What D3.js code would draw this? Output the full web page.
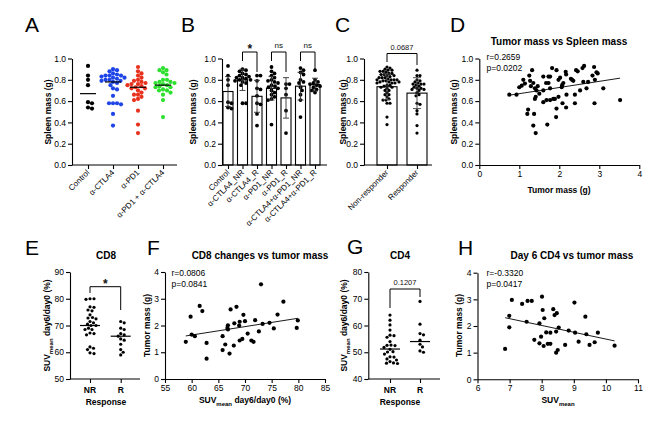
<!DOCTYPE html>
<html><head><meta charset="utf-8">
<script src="https://cdn.jsdelivr.net/npm/d3@7"></script>
<style>body{margin:0;background:#fff}</style>
</head><body>
<svg id="fig" width="669" height="428"></svg>
<script>
// ---------------- DATA ----------------
const spleenTicks = [0, 0.2, 0.4, 0.6, 0.8, 1.0];
// Panel B groups (spleen mass, g)
const groupsB = ["Control","α-CTLA4_NR","α-CTLA4_R","α-PD1_NR","α-PD1_R","α-CTLA4+α-PD1_NR","α-CTLA4+α-PD1_R"];
const spleenControl = [0.93,0.84,0.80,0.75,0.58,0.53,0.59,0.54];
const spleenCTLA4_NR = [0.90,0.89,0.88,0.86,0.85,0.84,0.83,0.82,0.82,0.81,0.80,0.80,0.79,0.78,0.77,0.75,0.58,0.58];
const spleenCTLA4_R = [0.84,0.84,0.79,0.72,0.71,0.65,0.58,0.57,0.48,0.37];
const spleenPD1_NR = [0.92,0.88,0.86,0.84,0.82,0.80,0.79,0.78,0.77,0.75,0.74,0.73,0.72,0.70,0.68,0.66,0.64,0.62,0.61,0.38];
const spleenPD1_R = [0.76,0.76,0.72,0.66,0.51,0.30];
const spleenCombo_NR = [0.91,0.89,0.87,0.85,0.80,0.78,0.77,0.73,0.70,0.66,0.61,0.45];
const spleenCombo_R = [0.89,0.80,0.78,0.77,0.76,0.75,0.74,0.73,0.71,0.70,0.68];
const barMeansB = [0.69,0.80,0.645,0.72,0.63,0.74,0.755];
const barSdB = [0.14,0.10,0.15,0.11,0.19,0.13,0.06];
const sigB = ["*","ns","ns"];
// Panel A groups
const groupsA = ["Control","α-CTLA4","α-PD1","α-PD1 + α-CTLA4"];
const colorsA = ["#000000","#1f45e6","#e8321e","#2ee02e"];
const meansA = [0.67,0.78,0.73,0.75];
// Panel C
const groupsC = ["Non-responder","Responder"];
const barMeansC = [0.735,0.675];
const barSdC = [0.12,0.145];
const pC = "0.0687";
// Panel D
const tumorD = [0.75,0.93,1.0,1.06,1.1,1.14,1.25,1.32,1.27,1.29,1.22,1.2,1.37,1.35,1.41,1.35,1.39,1.43,1.41,1.46,1.5,1.39,1.6,1.67,1.6,1.6,1.68,1.73,1.77,1.73,1.77,1.82,1.93,1.77,1.85,1.89,1.7,1.92,1.93,1.98,1.98,2.02,2.06,2.07,2.1,2.08,2.16,2.17,2.17,2.18,2.29,2.32,2.35,2.39,2.39,2.42,2.46,2.52,2.58,2.62,2.6,2.68,2.72,2.83,2.87,2.88,2.89,2.93,2.96,3.1,3.52];
const spleenD = [0.66,0.66,0.73,0.745,0.80,0.765,0.84,0.89,0.79,0.74,0.52,0.48,0.48,0.37,0.30,0.77,0.72,0.70,0.64,0.74,0.67,0.62,0.83,0.77,0.70,0.59,0.61,0.83,0.83,0.77,0.72,0.91,0.89,0.61,0.62,0.62,0.38,0.45,0.53,0.64,0.80,0.82,0.73,0.75,0.77,0.58,0.875,0.85,0.54,0.66,0.81,0.80,0.79,0.66,0.58,0.89,0.88,0.70,0.91,0.93,0.78,0.72,0.78,0.84,0.92,0.58,0.80,0.87,0.86,0.72,0.61];
const fitD = [0.612, 0.0578]; // intercept, slope
const statsD = ["r=0.2659","p=0.0202"];
// Panel E (CD8 SUVmean day6/day0 %)
const cd8NR = [80,80,79.8,77,76.8,75.8,75.5,74,73,72.8,72.5,71.5,71,70.5,70,70,69,68.5,68.5,67.2,67,66.5,62,61.5,61,59.8,59.5];
const cd8R = [71.5,71,69,68.5,67,66.5,66,65,64.5,63,61,60,59];
const linesE = [70,66];
// Panel F
const suvF = [58.9,59.8,60,60.6,61.5,62,62.8,62.8,65.8,65.8,66.3,66.7,66.8,66.8,67.1,67.3,67.9,68,68.4,68.9,69,69,69.5,69.7,70,70.5,71.2,71.6,71.9,72.6,73,73.3,74.6,75.4,76.1,77.2,79.7,79.9];
const tumorF = [1.39,2.33,1.66,1.6,2.73,2.54,1.35,0.76,1.6,1.08,1.29,1.91,2.01,1.85,0.95,2.6,1.25,2.08,2.7,2.0,2.14,1.44,1.5,2.4,2.16,1.7,1.44,1.39,2.2,1.78,3.54,2.06,2.1,1.89,2.41,2.89,1.91,2.19];
const fitF = [-0.24, 0.0314];
const statsF = ["r=0.0806","p=0.0841"];
// Panel G (CD4)
const cd4NR = [63.9,62,60.2,58.3,56.4,56.2,55.6,54,52.7,52.6,52.5,51.8,51.1,50.2,50.1,49.3,48.3,48.2,47.1,46.5,46,45.9,45.8,47.5];
const cd4R = [69,60.5,57,56.5,54.5,53,52,50.5,50];
const linesG = [51.2,54];
const pG = "0.1207";
// Panel H
const suvH = [6.86,6.99,6.99,7.07,7.39,7.56,7.69,7.53,7.77,7.93,7.93,7.98,8.01,8.03,8.06,8.08,8.14,8.19,8.27,8.27,8.36,8.4,8.45,8.45,8.47,8.5,8.53,8.73,8.84,9.02,9.04,9.15,9.36,9.39,9.49,9.65,9.75,10.27];
const tumorH = [1.14,2.38,1.95,2.98,2.83,2.94,2.94,2.16,1.48,2.1,1.35,1.6,3.1,2.6,1.25,2.29,1.76,1.33,1.33,1.75,2.63,2.41,1.79,1.0,2.48,1.1,1.94,1.29,1.83,2.88,1.75,1.41,2.35,1.69,1.29,1.39,1.75,1.26];
const fitH = [4.06, -0.255];
const statsH = ["r=-0.3320","p=0.0417"];

// ---------------- HELPERS ----------------
const FONT = "'Liberation Sans', Arial, Helvetica, sans-serif";
const svg = d3.select("#fig").attr("font-family", FONT);
svg.append("rect").attr("width",669).attr("height",428).attr("fill","#fff");

function styleAxis(a){
  a.attr("font-family", FONT).attr("font-size", 8.5);
  a.selectAll("path,line").attr("stroke","#000").attr("stroke-width",1.1);
  a.selectAll("text").attr("fill","#000");
}
function leftAxis(y, x, ticks, fmt){
  const a = svg.append("g").attr("transform",`translate(${x},0)`)
    .call(d3.axisLeft(y).tickValues(ticks).tickFormat(fmt).tickSize(4).tickSizeOuter(0).tickPadding(2));
  styleAxis(a); return a;
}
function bottomLinear(x, yPos, ticks, fmt){
  const a = svg.append("g").attr("transform",`translate(0,${yPos})`)
    .call(d3.axisBottom(x).tickValues(ticks).tickFormat(fmt).tickSize(4).tickSizeOuter(0).tickPadding(2));
  styleAxis(a); return a;
}
function bottomCat(xs, yPos, x0, x1){
  svg.append("line").attr("x1",x0).attr("x2",x1).attr("y1",yPos).attr("y2",yPos)
    .attr("stroke","#000").attr("stroke-width",1.1);
  const a = svg.append("g").attr("transform",`translate(0,${yPos})`)
    .call(d3.axisBottom(xs).tickSize(4).tickFormat(""));
  a.select(".domain").remove();
  styleAxis(a); return a;
}
function rotLabels(xs, yPos, size){
  svg.append("g").selectAll("text").data(xs.domain()).join("text")
    .attr("transform", d => `translate(${xs(d)+2},${yPos+8}) rotate(-45)`)
    .attr("text-anchor","end").attr("font-size", size || 8).attr("fill","#000").text(d => d);
}
function letter(t, x, y){
  svg.append("text").attr("x",x).attr("y",y).attr("font-size",21).attr("fill","#000").text(t);
}
function yTitle(t, x, y){
  svg.append("text").attr("transform",`translate(${x},${y}) rotate(-90)`).attr("text-anchor","middle")
    .attr("font-size",8.5).attr("font-weight","bold").attr("fill","#000").text(t);
}
function suvTitle(g, rest){
  g.attr("font-size",8.5).attr("font-weight","bold").attr("fill","#000").attr("text-anchor","middle");
  g.append("tspan").text("SUV");
  g.append("tspan").attr("font-size",6).attr("dy",2.5).text("mean");
  if (rest) g.append("tspan").attr("dy",-2.5).text(rest);
}
function title(t, x, y){
  svg.append("text").attr("x",x).attr("y",y).attr("text-anchor","middle").attr("font-size",10)
    .attr("font-weight","bold").attr("fill","#000").text(t);
}
function swarm(vals, y, cx, r, gap){
  const pts = [];
  const sorted = vals.map(v => ({v, y:y(v)})).sort((a,b) => a.y - b.y);
  for (const p of sorted){
    let best = cx;
    for (let k = 0; k < 80; k++){
      const off = (k % 2 === 1 ? 1 : -1) * Math.ceil(k/2) * 0.5;
      const x = cx + off;
      if (pts.every(q => (q.x-x)**2 + (q.y-p.y)**2 >= (2*r+gap)**2)){ best = x; break; }
    }
    pts.push({v:p.v, x:best, y:p.y});
  }
  return pts;
}
function dots(pts, r, color){
  svg.append("g").selectAll("circle").data(pts).join("circle")
    .attr("cx", d => d.x).attr("cy", d => d.y).attr("r", r).attr("fill", color);
}
function bracket(x1, x2, yTop, yL, yR, label, size, bold, dyText){
  const p = d3.path();
  p.moveTo(x1, yL); p.lineTo(x1, yTop); p.lineTo(x2, yTop); p.lineTo(x2, yR);
  svg.append("path").attr("d", p.toString()).attr("fill","none").attr("stroke","#000").attr("stroke-width",1);
  svg.append("text").attr("x",(x1+x2)/2).attr("y",yTop - dyText).attr("text-anchor","middle")
    .attr("font-size",size).attr("font-weight", bold ? "bold" : "normal").attr("fill","#111").text(label);
}
function meanLine(cx, v, y, hw){
  svg.append("line").attr("x1",cx-hw).attr("x2",cx+hw).attr("y1",y(v)).attr("y2",y(v))
    .attr("stroke","#000").attr("stroke-width",1.2);
}
function fitLine(x, y, xs, fit){
  const [lo, hi] = d3.extent(xs);
  svg.append("line").attr("x1",x(lo)).attr("x2",x(hi))
    .attr("y1",y(fit[0]+fit[1]*lo)).attr("y2",y(fit[0]+fit[1]*hi))
    .attr("stroke","#000").attr("stroke-width",0.9);
}
function stats(lines, x, y){
  lines.forEach((t,i) => svg.append("text").attr("x",x).attr("y",y+i*11).attr("font-size",8.5)
    .attr("fill","#000").text(t));
}
const f1 = d3.format(".1f");
const fd = d3.format("d");

// ---------------- PANEL A ----------------
{
  const dataA = [spleenControl, spleenCTLA4_NR.concat(spleenCTLA4_R), spleenPD1_NR.concat(spleenPD1_R), spleenCombo_NR.concat(spleenCombo_R)];
  const y = d3.scaleLinear().domain([0,1]).range([165,58.5]);
  const x = d3.scalePoint().domain(groupsA).range([88,163]);
  letter("A", 25, 32);
  leftAxis(y, 72, spleenTicks, f1);
  bottomCat(x, 165, 72, 177);
  rotLabels(x, 165);
  yTitle("Spleen mass (g)", 51, 112);
  groupsA.forEach((g,i) => {
    dots(swarm(dataA[i], y, x(g), 2.1, -0.2), 2.1, colorsA[i]);
    meanLine(x(g), meansA[i], y, 8);
  });
}
// ---------------- PANEL B ----------------
{
  const dataB = [spleenControl, spleenCTLA4_NR, spleenCTLA4_R, spleenPD1_NR, spleenPD1_R, spleenCombo_NR, spleenCombo_R];
  const y = d3.scaleLinear().domain([0,1]).range([165,58.5]);
  const x = d3.scalePoint().domain(groupsB).range([228,315]);
  const bw = 10;
  letter("B", 181, 32);
  svg.append("g").selectAll("rect").data(groupsB).join("rect")
    .attr("x", d => x(d)-bw/2).attr("width", bw)
    .attr("y", (d,i) => y(barMeansB[i])).attr("height", (d,i) => y(0)-y(barMeansB[i]))
    .attr("fill","#fff").attr("stroke","#000").attr("stroke-width",1.1);
  groupsB.forEach((g,i) => dots(swarm(dataB[i], y, x(g), 1.9, -0.3), 1.9, "#000"));
  groupsB.forEach((g,i) => {
    const cx = x(g), m = barMeansB[i], s = barSdB[i];
    const e = svg.append("g").attr("stroke","#333").attr("stroke-width",0.9);
    e.append("line").attr("x1",cx).attr("x2",cx).attr("y1",y(m-s)).attr("y2",y(m+s));
    e.append("line").attr("x1",cx-3).attr("x2",cx+3).attr("y1",y(m-s)).attr("y2",y(m-s));
    e.append("line").attr("x1",cx-3).attr("x2",cx+3).attr("y1",y(m+s)).attr("y2",y(m+s));
  });
  leftAxis(y, 222, spleenTicks, f1);
  bottomCat(x, 165, 222, 327);
  rotLabels(x, 165);
  yTitle("Spleen mass (g)", 195.5, 112);
  [[1,2],[3,4],[5,6]].forEach((pr,k) => {
    const star = sigB[k] === "*";
    bracket(x(groupsB[pr[0]]), x(groupsB[pr[1]]), 52, 61, 72, sigB[k], star ? 12 : 8, star, star ? -1 : 4);
  });
}
// ---------------- PANEL C ----------------
{
  const dataC = [spleenCTLA4_NR.concat(spleenPD1_NR, spleenCombo_NR), spleenCTLA4_R.concat(spleenPD1_R, spleenCombo_R)];
  const y = d3.scaleLinear().domain([0,1]).range([165,58.5]);
  const x = d3.scalePoint().domain(groupsC).range([387,417]);
  const bw = 20;
  letter("C", 335, 32);
  svg.append("g").selectAll("rect").data(groupsC).join("rect")
    .attr("x", d => x(d)-bw/2).attr("width", bw)
    .attr("y", (d,i) => y(barMeansC[i])).attr("height", (d,i) => y(0)-y(barMeansC[i]))
    .attr("fill","#fff").attr("stroke","#000").attr("stroke-width",1.1);
  groupsC.forEach((g,i) => dots(swarm(dataC[i], y, x(g), 1.6, -0.4), 1.6, "#000"));
  groupsC.forEach((g,i) => {
    const cx = x(g), m = barMeansC[i], s = barSdC[i];
    const e = svg.append("g").attr("stroke","#444").attr("stroke-width",0.9);
    e.append("line").attr("x1",cx).attr("x2",cx).attr("y1",y(m-s)).attr("y2",y(m+s));
    e.append("line").attr("x1",cx-4).attr("x2",cx+4).attr("y1",y(m-s)).attr("y2",y(m-s));
    e.append("line").attr("x1",cx-4).attr("x2",cx+4).attr("y1",y(m+s)).attr("y2",y(m+s));
  });
  leftAxis(y, 364, spleenTicks, f1);
  bottomCat(x, 165, 364, 432);
  rotLabels(x, 165);
  yTitle("Spleen mass (g)", 346, 112);
  bracket(x(groupsC[0]), x(groupsC[1]), 53.5, 62, 65, pC, 7.5, false, 4);
}
// ---------------- PANEL D ----------------
{
  const x = d3.scaleLinear().domain([0,4]).range([479.3,639.3]);
  const y = d3.scaleLinear().domain([0,1]).range([165,58.5]);
  letter("D", 450, 32);
  title("Tumor mass vs Spleen mass", 559, 45);
  leftAxis(y, 479.3, spleenTicks, f1);
  bottomLinear(x, 165, [0,1,2,3,4], fd);
  yTitle("Spleen mass (g)", 456.5, 112);
  svg.append("text").attr("x",559).attr("y",193).attr("text-anchor","middle").attr("font-size",8.5)
    .attr("font-weight","bold").attr("fill","#000").text("Tumor mass (g)");
  dots(tumorD.map((t,i) => ({x:x(t), y:y(spleenD[i])})), 2.1, "#000");
  fitLine(x, y, tumorD, fitD);
  stats(statsD, 486.5, 60);
}
// ---------------- PANEL E ----------------
{
  const y = d3.scaleLinear().domain([50,90]).range([379,272]);
  const x = d3.scalePoint().domain(["NR","R"]).range([90,120.7]);
  letter("E", 25, 255);
  title("CD8", 106, 259);
  leftAxis(y, 70, [50,60,70,80,90], fd);
  bottomCat(x, 379, 70, 140);
  svg.append("g").selectAll("text").data(["NR","R"]).join("text").attr("x", d => x(d)).attr("y",393)
    .attr("text-anchor","middle").attr("font-size",8.5).attr("font-weight","bold").attr("fill","#000").text(d => d);
  svg.append("text").attr("x",106).attr("y",405).attr("text-anchor","middle").attr("font-size",8.5)
    .attr("font-weight","bold").attr("fill","#000").text("Response");
  suvTitle(svg.append("text").attr("transform","translate(50,325.5) rotate(-90)"), " day6/day0 (%)");
  dots(swarm(cd8NR, y, x("NR"), 1.6, 0.4), 1.6, "#000");
  dots(swarm(cd8R, y, x("R"), 1.6, 0.4), 1.6, "#000");
  meanLine(x("NR"), linesE[0], y, 10);
  meanLine(x("R"), linesE[1], y, 10);
  bracket(x("NR"), x("R"), 286.7, 293, 310, "*", 12, true, -1);
}
// ---------------- PANEL F ----------------
{
  const x = d3.scaleLinear().domain([55,85]).range([165,325]);
  const y = d3.scaleLinear().domain([0,4]).range([379,272]);
  letter("F", 147, 255);
  title("CD8 changes vs tumor mass", 260, 259);
  leftAxis(y, 165, [0,1,2,3,4], fd);
  bottomLinear(x, 379, [55,60,65,70,75,80,85], fd);
  yTitle("Tumor mass (g)", 150, 325.5);
  suvTitle(svg.append("text").attr("x",245).attr("y",403), " day6/day0 (%)");
  dots(suvF.map((s,i) => ({x:x(s), y:y(tumorF[i])})), 2.1, "#000");
  fitLine(x, y, suvF, fitF);
  stats(statsF, 171.5, 276);
}
// ---------------- PANEL G ----------------
{
  const y = d3.scaleLinear().domain([40,80]).range([379,272]);
  const x = d3.scalePoint().domain(["NR","R"]).range([390,420]);
  letter("G", 347, 254);
  title("CD4", 400, 259);
  leftAxis(y, 368.3, [40,50,60,70,80], fd);
  bottomCat(x, 379, 368.3, 440);
  svg.append("g").selectAll("text").data(["NR","R"]).join("text").attr("x", d => x(d)).attr("y",393)
    .attr("text-anchor","middle").attr("font-size",8.5).attr("font-weight","bold").attr("fill","#000").text(d => d);
  svg.append("text").attr("x",400).attr("y",405).attr("text-anchor","middle").attr("font-size",8.5)
    .attr("font-weight","bold").attr("fill","#000").text("Response");
  suvTitle(svg.append("text").attr("transform","translate(347,325.5) rotate(-90)"), " day6/day0 (%)");
  dots(swarm(cd4NR, y, x("NR"), 1.6, 0.4), 1.6, "#000");
  dots(swarm(cd4R, y, x("R"), 1.6, 0.4), 1.6, "#000");
  meanLine(x("NR"), linesG[0], y, 10);
  meanLine(x("R"), linesG[1], y, 10);
  bracket(x("NR"), x("R"), 289, 308, 297, pG, 7.5, false, 4);
}
// ---------------- PANEL H ----------------
{
  const x = d3.scaleLinear().domain([6,11]).range([477.5,638]);
  const y = d3.scaleLinear().domain([0,4]).range([379.3,272.7]);
  letter("H", 458, 255);
  title("Day 6  CD4 vs tumor mass", 572, 259);
  leftAxis(y, 477.5, [0,1,2,3,4], fd);
  bottomLinear(x, 379.3, [6,7,8,9,10,11], fd);
  yTitle("Tumor mass (g)", 461.5, 325.5);
  suvTitle(svg.append("text").attr("x",558).attr("y",403), null);
  dots(suvH.map((s,i) => ({x:x(s), y:y(tumorH[i])})), 2.1, "#000");
  fitLine(x, y, suvH, fitH);
  stats(statsH, 486.5, 276);
}
</script>
</body></html>
